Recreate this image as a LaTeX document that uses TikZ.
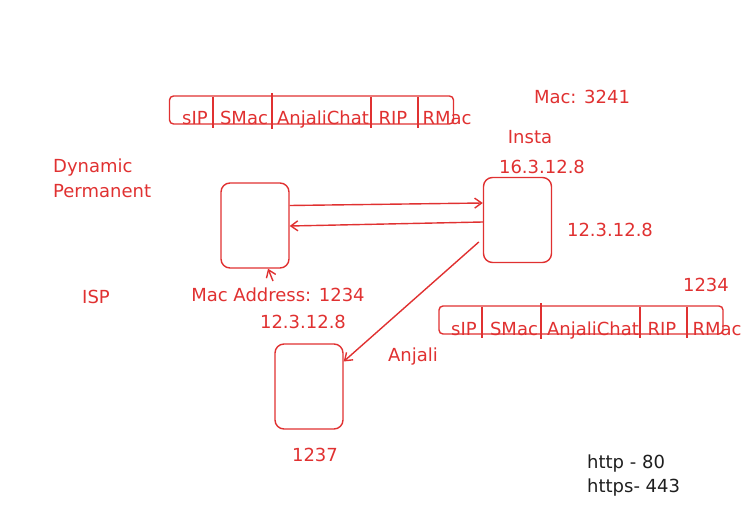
\documentclass[tikz,border=0pt]{standalone}
\usepackage{fontspec}
\setmainfont{DejaVu Sans}
\usetikzlibrary{arrows.meta}
\definecolor{ink}{HTML}{E03131}
\definecolor{pen}{HTML}{1E1E1E}
\begin{document}
\begin{tikzpicture}[x=1pt,y=-1pt,every
	node/.style={text=ink,inner sep=0pt,font=\fontsize{18}{20}\selectfont},
	host/.style={draw=ink,line width=1.4pt,rounded corners=9pt,minimum width=68pt,minimum height=85pt},
	packet/.style={draw=ink,line width=1.4pt,rounded corners=4pt,minimum width=284pt,minimum height=28pt},
	cell/.style={anchor=base},
	arr/.style={draw=ink,line width=1.4pt,-{Straight Barb[length=7pt,width=10pt]}}]
      \useasboundingbox (0,0) rectangle (755,516);

      \node [host] (host) at (255,225.5) {};
      \node [host] (insta) at (517.5,220) {};
      \node [host] (anjali) at (309,386.5) {};

      \node [packet] (pkt1) at (311.5,110) {};
      \node [packet] (pkt2) at (581,320) {};

      % packet cells
      \draw [ink,line width=1.4pt] (213,97) -- (213,128);
      \draw [ink,line width=1.4pt] (272,93) -- (272,129);
      \draw [ink,line width=1.4pt] (371,97) -- (371,128);
      \draw [ink,line width=1.4pt] (418,97) -- (418,128);
      \draw [ink,line width=1.4pt] (482,307) -- (482,338);
      \draw [ink,line width=1.4pt] (541,303) -- (541,339);
      \draw [ink,line width=1.4pt] (640,307) -- (640,338);
      \draw [ink,line width=1.4pt] (687,307) -- (687,338);

      \node [cell] (sip1) at (195,125) {sIP};
      \node [cell] (smac1) at (244,125) {SMac};
      \node [cell] (chat1) at (323,125) {AnjaliChat};
      \node [cell] (rip1) at (393,125) {RIP};
      \node [cell] (rmac1) at (447,125) {RMac};
      \node [cell] (sip2) at (464,335) {sIP};
      \node [cell] (smac2) at (514,335) {SMac};
      \node [cell] (chat2) at (593,335) {AnjaliChat};
      \node [cell] (rip2) at (662,335) {RIP};
      \node [cell] (rmac2) at (717,335) {RMac};

      % labels
      \node (mac) at (582,97) {Mac: 3241};
      \node (name) at (530,137) {Insta};
      \node (ipi) at (542,167) {16.3.12.8};
      \node (ipr) at (610,230) {12.3.12.8};
      \node (rport) at (706,285) {1234};
      \node [anchor=west] (dyn) at (53,168) {Dynamic};
      \node [anchor=west] (perm) at (53,191) {Permanent};
      \node (isp) at (96,297) {ISP};
      \node (addr) at (278,295) {Mac Address: 1234};
      \node (ipl) at (303,322) {12.3.12.8};
      \node (user) at (413,357) {Anjali};
      \node (port) at (315,455) {1237};
      \node [anchor=west,text=pen] (http) at (587,464) {http - 80};
      \node [anchor=west,text=pen] (https) at (587,488) {https- 443};

      \coordinate (tail) at (273,281);
      \draw [arr] ([yshift=20pt]host.east) -- ([yshift=17pt]insta.west);
      \draw [arr] ([yshift=-2pt]insta.west) -- ([yshift=-0.5pt]host.east);
      \draw [arr] ([xshift=-4pt,yshift=-22pt]insta.west) -- ([yshift=25pt]anjali.east);
      \draw [arr] (tail) -- ([xshift=13pt]host.south);
    \end{tikzpicture}
\end{document}
